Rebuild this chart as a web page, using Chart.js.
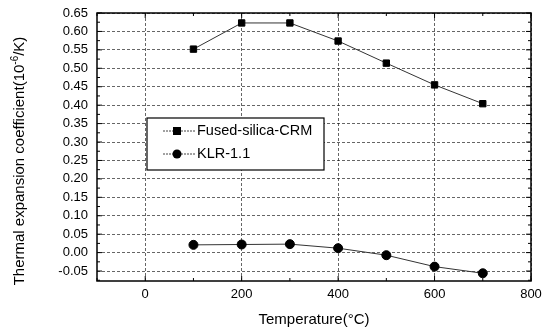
<!DOCTYPE html>
<html>
<head>
<meta charset="utf-8">
<script src="https://cdn.jsdelivr.net/npm/chart.js@4"></script>
<style>
  html, body { margin: 0; padding: 0; background: #fff; }
  #wrap { width: 551px; height: 329px; position: relative; }
</style>
</head>
<body>
<div id="wrap"><canvas id="c" width="551" height="329"></canvas></div>
<script>
// temperatures (°C)
const temps = [100, 200, 300, 400, 500, 600, 700];
// thermal expansion coefficient (10^-6/K)
const fusedSilica = [0.552, 0.623, 0.623, 0.574, 0.514, 0.455, 0.404];
const klr = [0.021, 0.022, 0.023, 0.012, -0.007, -0.038, -0.056];
const seriesNames = ['Fused-silica-CRM', 'KLR-1.1'];
// tick labels
const xTicks = [0, 200, 400, 600, 800];
const yTicks = [-0.05, 0, 0.05, 0.10, 0.15, 0.20, 0.25, 0.30, 0.35, 0.40, 0.45, 0.50, 0.55, 0.60, 0.65];

const FONT = '"Liberation Sans", Arial, sans-serif';

// box round the plot, inward ticks, y title and the legend
const framePlugin = {
    id: 'frame',
    afterDraw(chart) {
        const { ctx, chartArea: a, scales } = chart;
        ctx.save();
        ctx.strokeStyle = '#000';
        ctx.lineWidth = 1.5;
        ctx.strokeRect(a.left, a.top, a.right - a.left, a.bottom - a.top);

        ctx.lineWidth = 1;
        // y ticks: major every 0.05, minor in between
        for (let k = -3; k <= 26; k++) {
            const y = scales.y.getPixelForValue(k * 0.025);
            const len = k % 2 === 0 ? 5 : 3;
            ctx.beginPath();
            ctx.moveTo(a.left, y); ctx.lineTo(a.left + len, y);
            ctx.moveTo(a.right, y); ctx.lineTo(a.right - len, y);
            ctx.stroke();
        }
        // x ticks: major every 200, minor every 100
        for (let v = -100; v <= 800; v += 100) {
            const x = scales.x.getPixelForValue(v);
            const len = v % 200 === 0 ? 5 : 3;
            ctx.beginPath();
            ctx.moveTo(x, a.bottom); ctx.lineTo(x, a.bottom - len);
            ctx.moveTo(x, a.top); ctx.lineTo(x, a.top + len);
            ctx.stroke();
        }

        // y axis title with superscript
        ctx.save();
        ctx.translate(20, 161);
        ctx.rotate(-Math.PI / 2);
        ctx.fillStyle = '#000';
        ctx.textBaseline = 'middle';
        const big = '15px ' + FONT, small = '10px ' + FONT;
        const p1 = 'Thermal expansion coefficient(10', p2 = '-6', p3 = '/K)';
        ctx.font = big; const w1 = ctx.measureText(p1).width, w3 = ctx.measureText(p3).width;
        ctx.font = small; const w2 = ctx.measureText(p2).width;
        let tx = -(w1 + w2 + w3) / 2;
        ctx.font = big; ctx.fillText(p1, tx, 0); tx += w1;
        ctx.font = small; ctx.fillText(p2, tx, -5); tx += w2;
        ctx.font = big; ctx.fillText(p3, tx, 0);
        ctx.restore();

        // legend
        const lx = 147, ly = 118, lw = 177, lh = 52;
        ctx.fillStyle = '#fff';
        ctx.fillRect(lx, ly, lw, lh);
        ctx.lineWidth = 1.2;
        ctx.strokeRect(lx, ly, lw, lh);
        const rows = [ly + 13, ly + 36];
        rows.forEach((ry, i) => {
            ctx.strokeStyle = '#444';
            ctx.lineWidth = 1;
            ctx.setLineDash([2, 1]);
            ctx.beginPath();
            ctx.moveTo(lx + 16, ry); ctx.lineTo(lx + 48, ry);
            ctx.stroke();
            ctx.setLineDash([]);
            ctx.fillStyle = '#000';
            if (i === 0) {
                ctx.fillRect(lx + 26, ry - 4, 8, 8);
            } else {
                ctx.beginPath();
                ctx.arc(lx + 30, ry, 4.5, 0, Math.PI * 2);
                ctx.fill();
            }
            ctx.font = '14.5px ' + FONT;
            ctx.textBaseline = 'middle';
            ctx.fillText(seriesNames[i], lx + 50, ry);
        });
        ctx.restore();
    }
};

new Chart(document.getElementById('c'), {
    type: 'line',
    data: {
        datasets: [
            {
                label: seriesNames[0],
                data: temps.map((t, i) => ({ x: t, y: fusedSilica[i] })),
                borderColor: '#333',
                borderWidth: 1,
                pointStyle: 'rect',
                pointRadius: 4.5,
                pointBackgroundColor: '#000',
                pointBorderColor: '#000',
                tension: 0
            },
            {
                label: seriesNames[1],
                data: temps.map((t, i) => ({ x: t, y: klr[i] })),
                borderColor: '#333',
                borderWidth: 1,
                pointStyle: 'circle',
                pointRadius: 4.5,
                pointBackgroundColor: '#000',
                pointBorderColor: '#000',
                tension: 0
            }
        ]
    },
    options: {
        responsive: false,
        animation: false,
        layout: { padding: { left: 0, top: 13, right: 20, bottom: 0 } },
        plugins: { legend: { display: false }, tooltip: { enabled: false } },
        scales: {
            x: {
                type: 'linear',
                min: -100,
                max: 800,
                afterBuildTicks: (s) => { s.ticks = xTicks.map(v => ({ value: v })); },
                afterFit: (s) => { s.height = 48; s.paddingLeft = 0; s.paddingRight = 0; },
                ticks: { color: '#000', font: { family: FONT, size: 13 }, padding: 6 },
                grid: { color: 'rgba(0,0,0,0.6)', drawTicks: false },
                border: { display: false, dash: [3, 2] },
                title: { display: true, text: 'Temperature(°C)', color: '#000', font: { family: FONT, size: 15 }, padding: { top: 0, bottom: 0 } }
            },
            y: {
                min: -0.077,
                max: 0.65,
                afterBuildTicks: (s) => { s.ticks = yTicks.map(v => ({ value: v })); },
                afterFit: (s) => { s.width = 97; s.paddingTop = 0; s.paddingBottom = 0; },
                ticks: {
                    color: '#000',
                    font: { family: FONT, size: 13 },
                    padding: 9,
                    callback: (v) => v.toFixed(2)
                },
                grid: { color: 'rgba(0,0,0,0.6)', drawTicks: false },
                border: { display: false, dash: [3, 2] },
                title: { display: false }
            }
        }
    },
    plugins: [framePlugin]
});
</script>
</body>
</html>
